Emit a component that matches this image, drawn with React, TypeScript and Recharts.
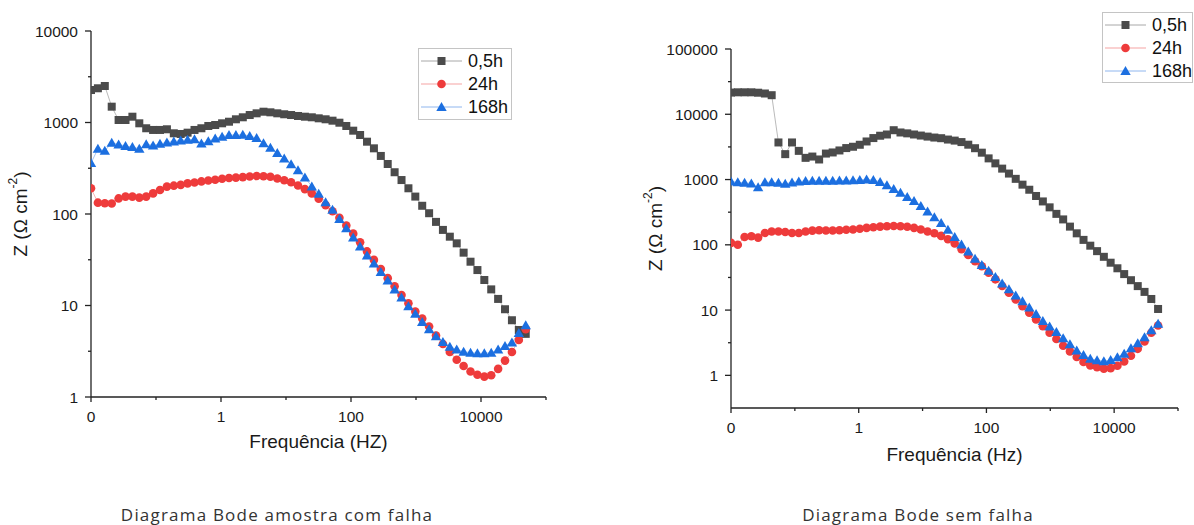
import { LineChart, Line, XAxis, YAxis, Legend, Label } from "recharts";

// frequencies (Hz), same sweep for both samples
const FREQ = [
  0.01, 0.01277, 0.01631, 0.02083, 0.02659, 0.03396, 0.04335, 0.05535, 0.07068, 0.09024,
  0.1152, 0.1472, 0.1879, 0.2399, 0.3063, 0.3912, 0.4994, 0.6378, 0.8144, 1.04,
  1.328, 1.696, 2.165, 2.765, 3.53, 4.508, 5.756, 7.35, 9.387, 11.98,
  15.3, 19.54, 24.95, 31.86, 40.68, 51.95, 66.33, 84.71, 108.2, 138.1,
  176.4, 225.2, 287.6, 367.2, 468.9, 598.8, 764.6, 976.1, 1246, 1591,
  2032, 2595, 3314, 4231, 5403, 6899, 8810, 11250, 14365, 18340,
  23420, 29910, 38190, 48770,
];

// amostra com falha
const FALHA_05H = [
  2265, 2366, 2506, 1489, 1065, 1065, 1157, 980, 865, 829,
  829, 843, 762, 749, 774, 829, 865, 916, 939, 980,
  1020, 1084, 1140, 1207, 1260, 1312, 1292, 1260, 1230, 1207,
  1178, 1157, 1140, 1111, 1084, 1047, 995, 916, 814, 730,
  617, 522, 431, 352, 286, 235, 191, 155, 123, 102,
  82, 67, 56.5, 47.8, 37.8, 30.1, 24.4, 19.0, 15.0, 11.8,
  9.1, 6.9, 5.4, 4.9,
];
const FALHA_24H = [
  191, 133, 131, 130, 148, 155, 155, 151, 155, 168,
  183, 199, 204, 208, 216, 221, 227, 232, 237, 243,
  247, 250, 253, 257, 260, 259, 255, 244, 234, 222,
  205, 187, 168, 147, 125, 107, 91, 75, 61, 49,
  39, 31.5, 25, 19.9, 16.2, 13, 10.6, 8.6, 7.2, 5.9,
  4.7, 3.8, 3.1, 2.55, 2.18, 1.9, 1.75, 1.67, 1.73, 2.03,
  2.5, 3.1, 4.2, 5.5,
];
const FALHA_168H = [
  360, 515, 490, 600, 575, 553, 540, 515, 580, 560,
  585, 605, 620, 635, 648, 655, 590, 625, 670, 700,
  728, 730, 735, 712, 675, 595, 530, 465, 405, 350,
  300, 250, 200, 166, 134, 111, 88, 70, 55.5, 44,
  35.3, 28.7, 23.2, 18.8, 15.0, 12.2, 9.8, 8.1, 6.6, 5.5,
  4.6, 4.0, 3.55, 3.3, 3.13, 3.05, 3.0, 3.0, 3.05, 3.3,
  3.6, 3.95, 5.0, 6.1,
];

// amostra sem falha
const SEM_05H = [
  21500, 21700, 21700, 21700, 21400, 20800, 19600, 3700, 2450, 3700,
  2750, 2150, 2250, 2030, 2500, 2600, 2790, 3035, 3180, 3410,
  3830, 4320, 4690, 4900, 5700, 5260, 5100, 4900, 4720, 4550,
  4400, 4300, 4100, 3950, 3750, 3420, 3020, 2580, 2110, 1770,
  1470, 1235, 1025, 835, 698, 560, 462, 375, 298, 245,
  190, 150, 119, 97, 80, 65.5, 53.2, 43.7, 35.6, 28.7,
  23.3, 19.0, 14.8, 10.4,
];
const SEM_24H = [
  107, 100, 132, 135, 129, 152, 160, 160, 157, 152,
  152, 160, 165, 167, 166, 166, 167, 170, 172, 176,
  182, 186, 190, 193, 194, 193, 189, 182, 172, 160,
  150, 137, 122, 105, 86, 70, 56, 47, 37.5, 29.6,
  23.4, 18.4, 14.5, 11.5, 9.1, 7.2, 5.65, 4.5, 3.6, 2.85,
  2.33, 1.91, 1.6, 1.42, 1.33, 1.27, 1.29, 1.4, 1.63, 2.0,
  2.55, 3.3, 4.5, 5.8,
];
const SEM_168H = [
  930, 910, 890, 870, 760, 910, 905, 890, 860, 900,
  935, 950, 955, 958, 960, 962, 965, 968, 975, 985,
  1000, 985, 920, 815, 715, 625, 540, 470, 395, 325,
  265, 215, 170, 132, 101, 79, 61, 49, 40, 32,
  25.5, 20.8, 16.7, 13.6, 11.0, 8.7, 6.8, 5.6, 4.6, 3.7,
  3.0, 2.4, 2.05, 1.8, 1.7, 1.65, 1.72, 1.9, 2.15, 2.6,
  3.1, 3.85, 4.9, 6.2,
];

const SERIES_NAMES = ["0,5h", "24h", "168h"];

const X_TICKS = [0.01, 0.1, 1, 10, 100, 1000, 10000, 100000];
const X_TICK_LABELS = ["0", "", "1", "", "100", "", "10000", ""];
const Y_TICKS_FALHA = [1, 3.162, 10, 31.62, 100, 316.2, 1000, 3162, 10000];
const Y_LABELS_FALHA = ["1", "", "10", "", "100", "", "1000", "", "10000"];
const Y_TICKS_SEM = [1, 3.162, 10, 31.62, 100, 316.2, 1000, 3162, 10000, 31620, 100000];
const Y_LABELS_SEM = ["1", "", "10", "", "100", "", "1000", "", "10000", "", "100000"];

const FONT = '"Liberation Sans", Arial, sans-serif';
const GRAY = "#4b4b4b";
const RED = "#ee3b3b";
const BLUE = "#1c6fe0";
const LINE_COLORS = ["#a8a8a8", "#f5a3a3", "#8fb6ee"];

const toPoints = (vals: number[]) => vals.map((z, i) => ({ f: FREQ[i], z }));

const labelFor = (ticks: number[], labels: string[], v: number) => {
  const i = ticks.findIndex((t) => Math.abs(t - v) / t < 1e-3);
  return i >= 0 ? labels[i] : "";
};

function Marker({ kind, cx, cy }: { kind: number; cx: number; cy: number }) {
  if (kind === 0) {
    return <rect x={cx - 4} y={cy - 4} width={8} height={8} fill={GRAY} />;
  }
  if (kind === 1) {
    return <circle cx={cx} cy={cy} r={4.3} fill={RED} />;
  }
  return (
    <polygon
      points={`${cx},${cy - 5} ${cx + 5.2},${cy + 4} ${cx - 5.2},${cy + 4}`}
      fill={BLUE}
    />
  );
}

const makeDot = (kind: number) => (props: any) => {
  const { cx, cy, index } = props;
  if (cx == null || cy == null) return <g key={`d-${kind}-${index}`} />;
  return (
    <g key={`d-${kind}-${index}`}>
      <Marker kind={kind} cx={cx} cy={cy} />
    </g>
  );
};

const xTick = (props: any) => {
  const { x, y, payload } = props;
  const text = labelFor(X_TICKS, X_TICK_LABELS, payload.value);
  const len = text ? 5 : 3;
  return (
    <g>
      <line x1={x} y1={y} x2={x} y2={y + len} stroke="#222" strokeWidth={1.3} />
      {text && (
        <text
          x={x}
          y={y + 19}
          textAnchor="middle"
          dominantBaseline="central"
          fontSize={15.5}
          fontFamily={FONT}
          fill="#1a1a1a"
        >
          {text}
        </text>
      )}
    </g>
  );
};

const makeYTick = (ticks: number[], labels: string[]) => (props: any) => {
  const { x, y, payload } = props;
  const text = labelFor(ticks, labels, payload.value);
  const len = text ? 6 : 3;
  return (
    <g>
      <line x1={x - len} y1={y} x2={x} y2={y} stroke="#222" strokeWidth={1.3} />
      {text && (
        <text
          x={x - 13}
          y={y}
          textAnchor="end"
          dominantBaseline="central"
          fontSize={15.5}
          fontFamily={FONT}
          fill="#1a1a1a"
        >
          {text}
        </text>
      )}
    </g>
  );
};

const makeXTitle = (title: string, dy: number) => (props: any) => {
  const vb = props.viewBox || {};
  return (
    <text
      x={vb.x + vb.width / 2}
      y={vb.y + dy}
      textAnchor="middle"
      dominantBaseline="central"
      fontSize={19}
      fontFamily={FONT}
      fill="#1a1a1a"
    >
      {title}
    </text>
  );
};

const makeYTitle = (dx: number) => (props: any) => {
  const vb = props.viewBox || {};
  const cx = vb.x + dx;
  const cy = vb.y + vb.height / 2;
  return (
    <text
      transform={`translate(${cx},${cy}) rotate(-90)`}
      textAnchor="middle"
      dominantBaseline="central"
      fontSize={19}
      fontFamily={FONT}
      fill="#1a1a1a"
    >
      Z (Ω cm
      <tspan fontSize={12} dy={-7}>
        -2
      </tspan>
      <tspan dy={7}>)</tspan>
    </text>
  );
};

function LegendBox({ width, height }: { width: number; height: number }) {
  return (
    <svg width={width} height={height} style={{ display: "block" }}>
      <rect
        x={0.5}
        y={0.5}
        width={width - 1}
        height={height - 1}
        fill="#fff"
        stroke="#c4c4c4"
        strokeWidth={1}
      />
      {SERIES_NAMES.map((name, k) => {
        const cy = 13 + k * 23;
        return (
          <g key={name}>
            <line x1={3} y1={cy} x2={44} y2={cy} stroke={LINE_COLORS[k]} strokeWidth={1} />
            <Marker kind={k} cx={23.5} cy={cy} />
            <text
              x={50}
              y={cy}
              dominantBaseline="central"
              fontSize={18}
              fontFamily={FONT}
              fill="#111"
            >
              {name}
            </text>
          </g>
        );
      })}
    </svg>
  );
}

function BodePanel({
  width,
  height,
  margin,
  xAxisHeight,
  series,
  yDomain,
  yTicks,
  yLabels,
  xTitle,
  xTitleDy,
  yTitleDx,
  legendPos,
}: any) {
  return (
    <LineChart width={width} height={height} margin={margin}>
      <XAxis
        dataKey="f"
        type="number"
        scale="log"
        domain={[0.01, 100000]}
        allowDataOverflow
        ticks={X_TICKS}
        interval={0}
        height={xAxisHeight}
        tickSize={0}
        tickMargin={0}
        tickLine={false}
        axisLine={{ stroke: "#222", strokeWidth: 1.3 }}
        tick={xTick}
      >
        <Label content={makeXTitle(xTitle, xTitleDy)} />
      </XAxis>
      <YAxis
        type="number"
        scale="log"
        domain={yDomain}
        allowDataOverflow
        ticks={yTicks}
        interval={0}
        width={91}
        tickSize={0}
        tickMargin={0}
        tickLine={false}
        axisLine={{ stroke: "#222", strokeWidth: 1.3 }}
        tick={makeYTick(yTicks, yLabels)}
      >
        <Label content={makeYTitle(yTitleDx)} />
      </YAxis>
      <Legend
        layout="horizontal"
        verticalAlign="middle"
        align="center"
        wrapperStyle={{
          left: legendPos.left,
          top: legendPos.top,
          width: legendPos.width,
          height: legendPos.height,
        }}
        content={() => <LegendBox width={legendPos.width} height={legendPos.height} />}
      />
      {series.map((vals: number[], k: number) => (
        <Line
          key={SERIES_NAMES[k]}
          name={SERIES_NAMES[k]}
          data={toPoints(vals)}
          dataKey="z"
          type="linear"
          stroke={LINE_COLORS[k]}
          strokeWidth={0.8}
          dot={makeDot(k)}
          activeDot={false}
          isAnimationActive={false}
        />
      ))}
    </LineChart>
  );
}

const captionStyle = {
  position: "absolute" as const,
  top: 506,
  width: 400,
  textAlign: "center" as const,
  fontFamily: '"Open Sans", sans-serif',
  fontSize: 17,
  letterSpacing: 1.2,
  lineHeight: "18px",
  color: "#333",
  whiteSpace: "nowrap" as const,
};

export default function App() {
  return (
    <div
      style={{
        position: "fixed",
        left: 0,
        top: 0,
        width: 1194,
        height: 525,
        background: "#fff",
        overflow: "hidden",
      }}
    >
      <div style={{ position: "absolute", left: 0, top: 0 }}>
        <BodePanel
          width={600}
          height={470}
          margin={{ top: 31, right: 54, bottom: 0, left: 0 }}
          xAxisHeight={73}
          series={[FALHA_05H, FALHA_24H, FALHA_168H]}
          yDomain={[1, 10000]}
          yTicks={Y_TICKS_FALHA}
          yLabels={Y_LABELS_FALHA}
          xTitle="Frequência (HZ)"
          xTitleDy={44}
          yTitleDx={20}
          legendPos={{ left: 418, top: 48, width: 94, height: 72 }}
        />
      </div>
      <div style={{ position: "absolute", left: 640, top: 0 }}>
        <BodePanel
          width={554}
          height={480}
          margin={{ top: 49, right: 16, bottom: 0, left: 0 }}
          xAxisHeight={72}
          series={[SEM_05H, SEM_24H, SEM_168H]}
          yDomain={[0.3162, 100000]}
          yTicks={Y_TICKS_SEM}
          yLabels={Y_LABELS_SEM}
          xTitle="Frequência (Hz)"
          xTitleDy={46}
          yTitleDx={15}
          legendPos={{ left: 462, top: 12, width: 91, height: 71 }}
        />
      </div>
      <div style={{ ...captionStyle, left: 77 }}>Diagrama Bode amostra com falha</div>
      <div style={{ ...captionStyle, left: 718 }}>Diagrama Bode sem falha</div>
    </div>
  );
}
